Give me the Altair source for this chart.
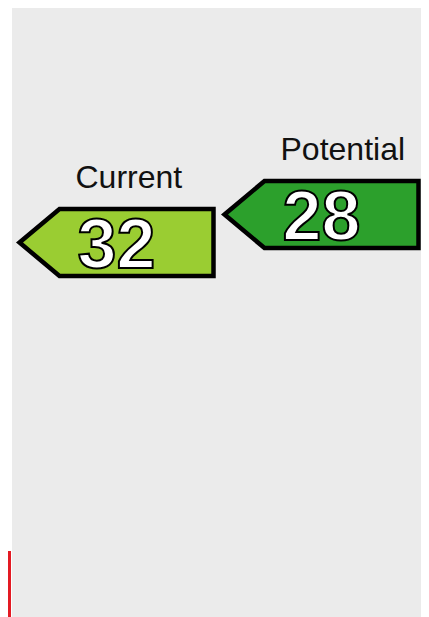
import altair as alt
import pandas as pd

# Data
labels = ["Current", "Potential"]
ratings = [32, 28]
fills = ["#9acd32", "#2ca02c"]
band_names = ["G"]
band_colors = ["#e31a23"]

df = pd.DataFrame({
    "label": labels,
    "rating": ratings,
    "fill": fills,
    "txt": [str(r) for r in ratings],
})
band_df = pd.DataFrame({"band": band_names, "color": band_colors})

ARROW = "M -1 0 L -0.5876 -0.3454 L 1 -0.3454 L 1 0.3454 L -0.5876 0.3454 Z"
FONT = "Liberation Sans"

x = alt.X("label:N", axis=None,
          scale=alt.Scale(type="point", domain=labels, range=[104.5, 309.5], padding=0))
y = alt.Y("rating:Q", axis=None,
          scale=alt.Scale(domain=[-1.5, 85.5], reverse=True, zero=False, nice=False))

base = alt.Chart(df)

band = alt.Chart(band_df).mark_rect().encode(
    x=alt.value(-4), x2=alt.value(-1), y=alt.value(543), y2=alt.value(609),
    fill=alt.Color("color:N", scale=None),
)

arrows = base.mark_point(
    shape=ARROW, size=37636, filled=True, opacity=1,
    stroke="black", strokeWidth=4.5, strokeJoin="miter",
).encode(x=x, y=y, fill=alt.Color("fill:N", scale=None))

numbers = base.mark_text(
    font=FONT, fontSize=70, fontWeight="bold", align="center", baseline="alphabetic",
    dy=25.5, fill="white", stroke="black", strokeWidth=2,
).encode(x=x, y=y, text="txt:N")

names = base.mark_text(
    font=FONT, fontSize=32, align="left", baseline="alphabetic",
    dx=-41, dy=-55, color="#111111",
).encode(x=x, y=y, text="label:N")

chart = alt.layer(band, arrows, numbers, names).properties(
    width=409, height=609,
    padding={"left": 4, "right": 0, "top": 0, "bottom": 0},
    autosize=alt.AutoSizeParams(type="none"),
).configure_view(fill="#EBEBEB", strokeWidth=0)

chart.save("out.html", embed_options={"renderer": "svg", "actions": False})
